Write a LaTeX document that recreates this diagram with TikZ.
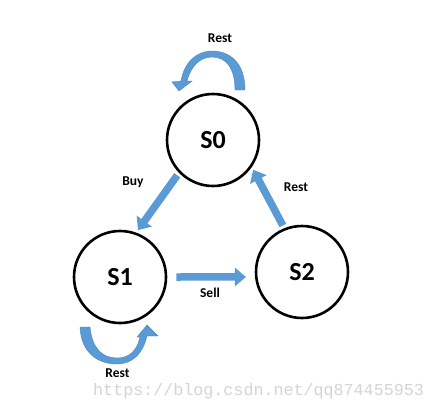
\documentclass[tikz,border=0pt]{standalone}
\usepackage{fontspec}
\setmainfont{Carlito}
\newfontfamily\wmfont{Liberation Mono}
\usetikzlibrary{arrows.meta}
\definecolor{arrblue}{HTML}{5B9BD5}
\definecolor{arredge}{HTML}{4A86C0}
\definecolor{wmgray}{HTML}{D4D4D4}
\tikzset{
  state/.style={circle,draw=black,line width=2.6pt,minimum size=92pt,inner sep=0pt,font=\fontsize{26}{28}\selectfont\bfseries},
  fatarrow/.style={draw=arrblue,line width=7.5pt,-{Triangle[width=18pt,length=11pt]},shorten <=3pt,shorten >=3pt},
  curvearrow/.style={fill=arrblue,draw=arredge,line width=0.4pt},
  lbl/.style={font=\fontsize{13.5}{15}\selectfont\bfseries,inner sep=0pt},
  wm/.style={font=\wmfont\fontsize{16.7}{18}\selectfont,text=wmgray,inner sep=0pt,anchor=base west}
}
\begin{document}
\begin{tikzpicture}[x=1pt,y=-1pt]
\useasboundingbox (0,0) rectangle (435,410);
\node[state] (s0) at (213,140) {S0};
\node[state] (s1) at (120,277) {S1};
\node[state] (s2) at (302,272) {S2};
% straight arrows
\draw[fatarrow] (s0.224) -- (s1.70);
\draw[fatarrow,shorten <=9pt,shorten >=9pt] (s1.east) -- (s2.186);
\draw[fatarrow] (s2.112) -- (s0.325);
% top self loop
\filldraw[curvearrow] (245,90) .. controls (245,63) and (230,51) .. (212,51)
  .. controls (196,51) and (184,63) .. (181,81) -- (172,82) -- (179,91) -- (192,81) -- (187,81)
  .. controls (191,66) and (200,57) .. (212,57)
  .. controls (226,57) and (235,68) .. (235,90) -- cycle;
% bottom self loop
\filldraw[curvearrow] (80,327) .. controls (81,352) and (97,364) .. (117,364)
  .. controls (133,364) and (143,353) .. (147,336) -- (158,336) -- (147,325) -- (137,337) -- (140,337)
  .. controls (137,351) and (129,358) .. (117,358)
  .. controls (102,358) and (92,348) .. (90,327) -- cycle;
% labels
\node[lbl] (lrest0) at (220,38) {Rest};
\node[lbl] (lbuy) at (133,182) {Buy};
\node[lbl] (lrest2) at (296,187) {Rest};
\node[lbl] (lsell) at (210,293) {Sell};
\node[lbl] (lrest1) at (117.5,373) {Rest};
\node[wm] (wmark) at (93,395) {https://blog.csdn.net/qq874455953};
\end{tikzpicture}
\end{document}
